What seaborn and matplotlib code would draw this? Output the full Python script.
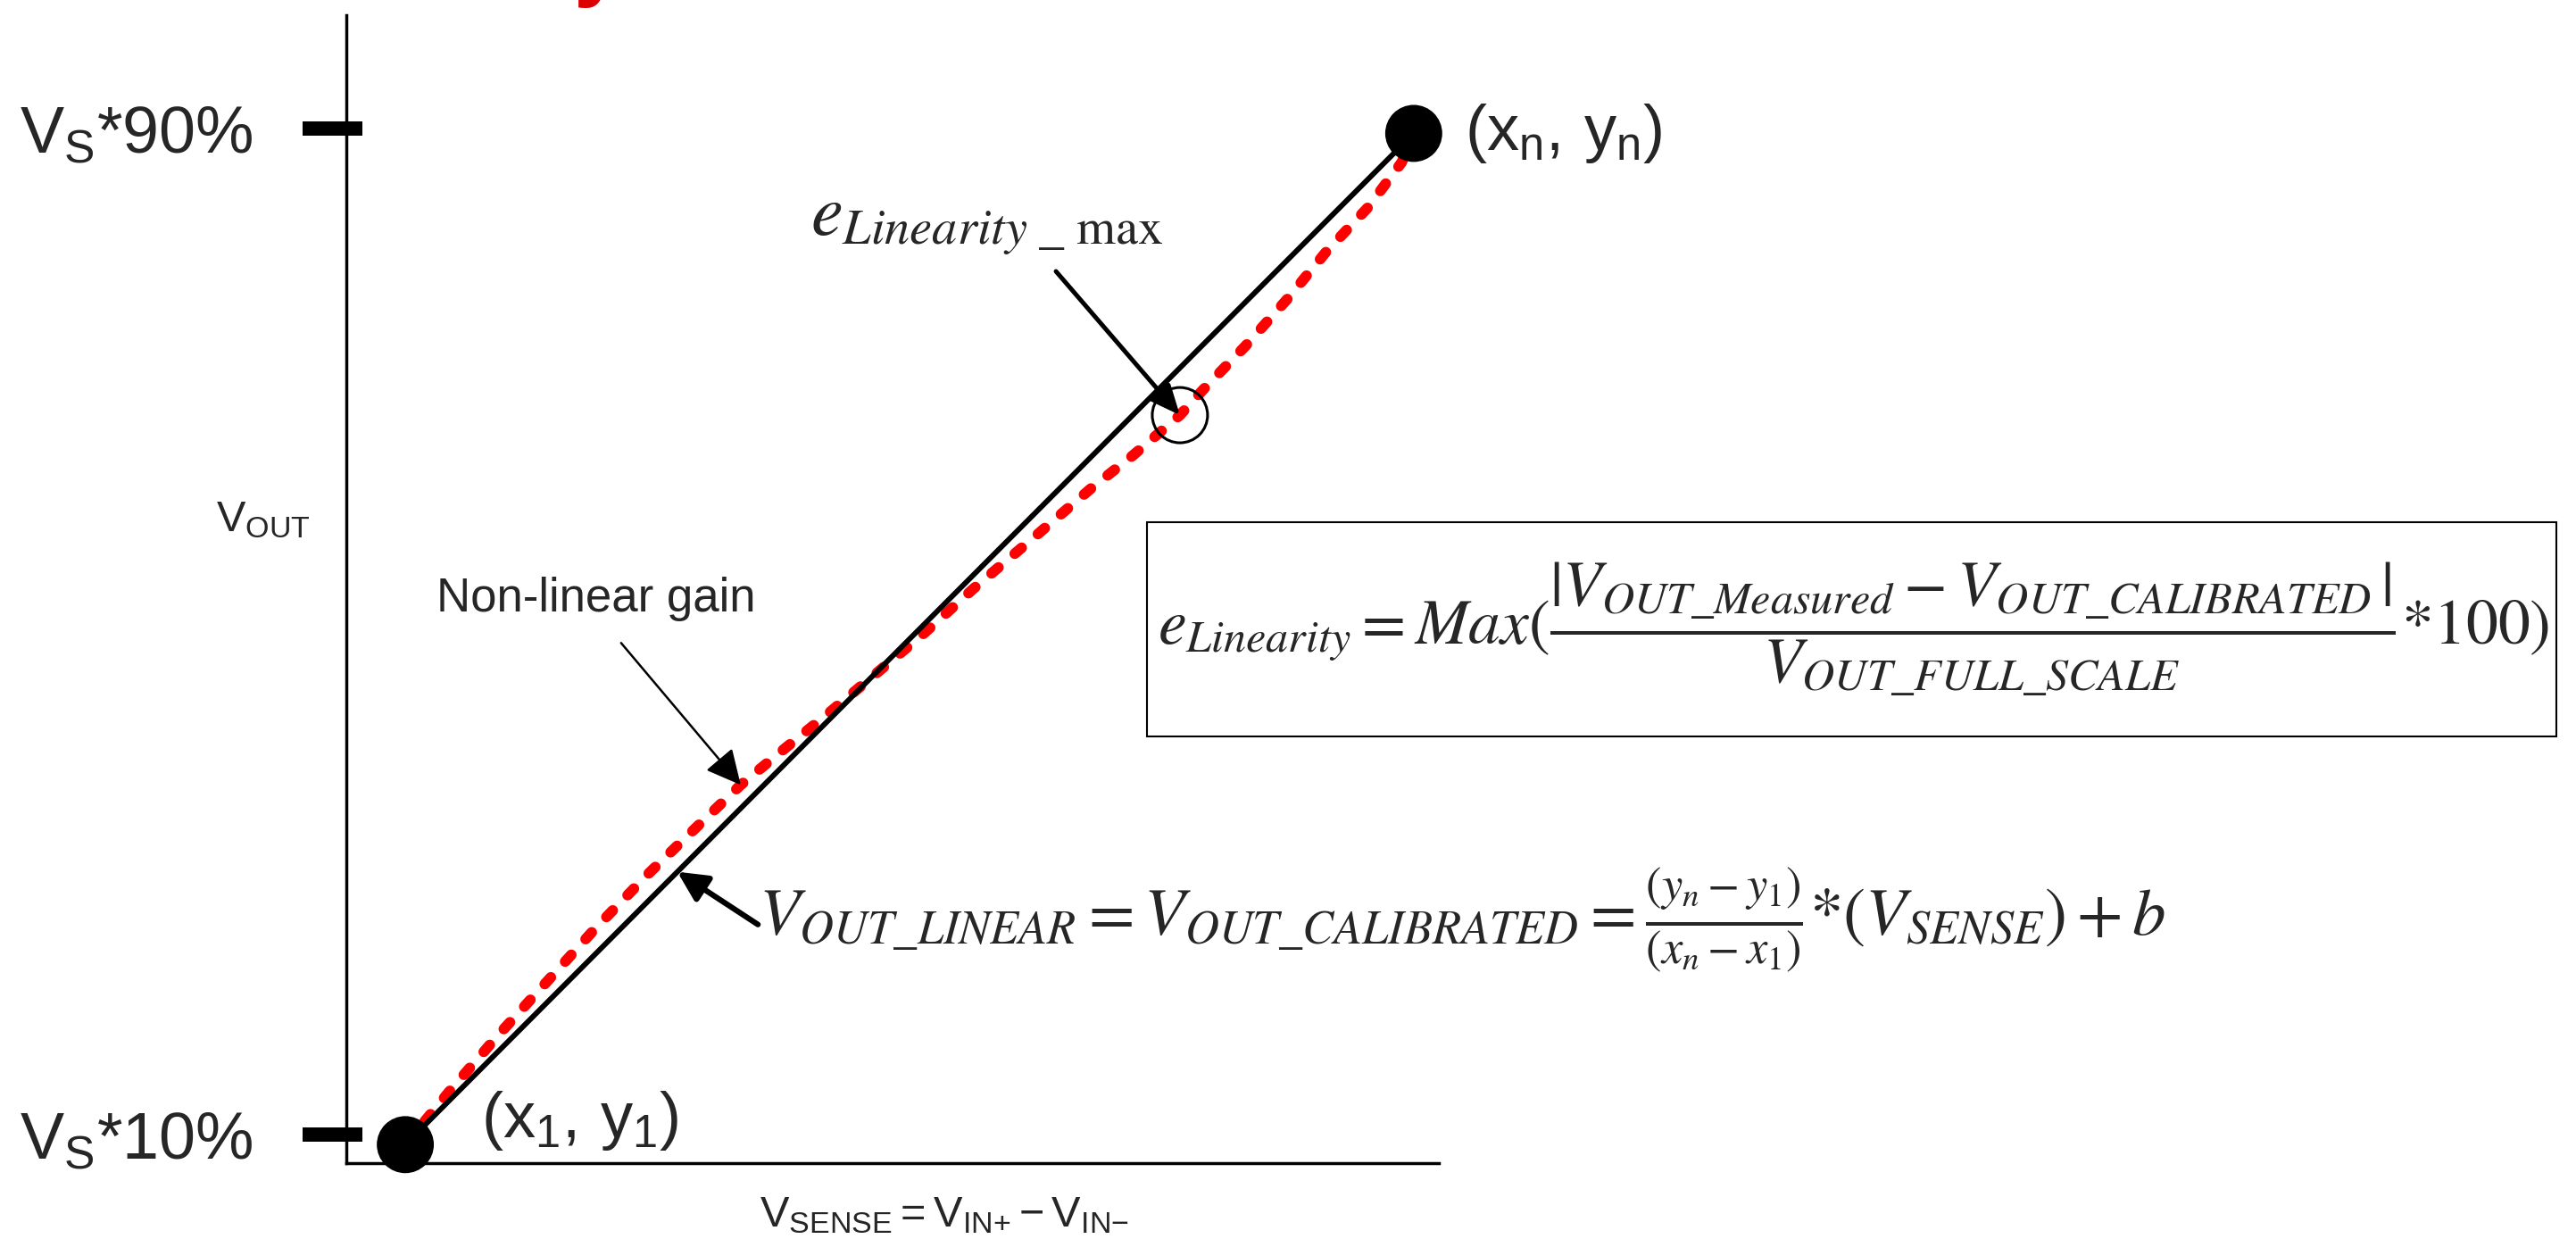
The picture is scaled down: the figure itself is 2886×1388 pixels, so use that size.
import numpy as np
import matplotlib
matplotlib.use("Agg")
import matplotlib.pyplot as plt
from matplotlib.patches import Rectangle
import seaborn as sns

W, H = 2886, 1388

# calibration end points: V_SENSE (% of range) and V_OUT (% of V_S)
X_ENDS = [5.4, 97.7]
Y_ENDS = [9.2, 89.6]

# measured (non-linear) output
SENSE = [5.4, 9.6, 13.9, 18.3, 22.8, 27.6, 32.6, 36.1, 40.0, 44.0, 48.0, 52.8,
         57.4, 63.1, 68.2, 72.0, 76.3, 78.4, 82.3, 86.1, 89.7, 93.5, 96.6, 97.7]
MEASURED = [9.2, 13.6, 17.9, 22.1, 26.4, 30.7, 34.9, 37.8, 40.6, 43.4, 46.3, 49.8,
            53.4, 57.6, 61.4, 64.0, 67.2, 69.2, 72.7, 76.4, 80.2, 83.7, 87.3, 89.6]

Y_TICKS = [10, 90]
Y_TICK_LABELS = [r"$\mathrm{V_S{*}10\%}$", r"$\mathrm{V_S{*}90\%}$"]
GAIN_NOTE_IDX = 7       # where the "Non-linear gain" arrow lands
LINEAR_NOTE_X = 30.3    # where the V_OUT_LINEAR arrow lands

F_MAX = r"$e_{Linearity\ \_\ \mathrm{max}}$"
F_ERR = (r"$e_{Linearity} = Max(\dfrac{|V_{OUT\_Measured} - V_{OUT\_CALIBRATED}\,|}"
         r"{V_{OUT\_FULL\_SCALE}}{*}100)$")
F_LIN = (r"$V_{OUT\_LINEAR} = V_{OUT\_CALIBRATED} = \frac{(y_n - y_1)}{(x_n - x_1)}"
         r"{*}(V_{SENSE}) + b$")


def fx(px):
    return px / W


def fy(py):
    return 1 - py / H


sns.set_style("white")
plt.rcParams["font.family"] = ["Liberation Sans", "DejaVu Sans"]
plt.rcParams["mathtext.fontset"] = "custom"
plt.rcParams["mathtext.rm"] = "Liberation Sans"
plt.rcParams["mathtext.it"] = "Liberation Sans:italic"
plt.rcParams["mathtext.bf"] = "Liberation Sans:bold"

fig = plt.figure(figsize=(W / 100, H / 100), dpi=100)
ax = fig.add_axes([fx(388), fy(1303), 1224 / W, 1286 / H])

sns.lineplot(x=SENSE, y=MEASURED, ax=ax, color="#ff0000", lw=8.6, sort=False)
red = ax.lines[-1]
red.set_linestyle((0, (0.85, 2.0)))
red.set_dash_capstyle("round")
red.set_clip_on(False)

sns.lineplot(x=X_ENDS, y=Y_ENDS, ax=ax, color="black", lw=4.3)
ax.lines[-1].set_clip_on(False)
sns.scatterplot(x=X_ENDS, y=Y_ENDS, ax=ax, color="black", s=2116,
                edgecolor="none", zorder=5, clip_on=False)

# point of maximum linearity error
lin = np.interp(SENSE, X_ENDS, Y_ENDS)
i_max = int(np.argmax(np.abs(lin - np.array(MEASURED))))
ax.scatter([SENSE[i_max]], [MEASURED[i_max]], s=1990, facecolor="none",
           edgecolor="black", lw=2.2, zorder=6, clip_on=False)

ax.set_xlim(0, 100)
ax.set_ylim(7.73, 99.0)
sns.despine(ax=ax)
for side in ["left", "bottom"]:
    ax.spines[side].set_linewidth(2.5)
    ax.spines[side].set_color("black")

ax.set_xticks([])
ax.set_yticks(Y_TICKS)
ax.set_yticklabels(Y_TICK_LABELS, fontsize=53)
ax.set_yticks(Y_TICKS, minor=True)
ax.yaxis.remove_overlapping_locs = False
ax.tick_params(axis="y", which="major", left=True, direction="out", length=35,
               width=11.5, color="black", pad=40)
ax.tick_params(axis="y", which="minor", left=True, direction="in", length=13,
               width=11.5, color="black")

ax.set_ylabel(r"$\mathrm{V_{OUT}}$", fontsize=35, rotation=0, ha="center", va="center")
ax.yaxis.set_label_coords(-0.076, 0.56)
ax.set_xlabel(r"$\mathrm{V_{SENSE} = V_{IN{+}} - V_{IN{-}}}$", fontsize=35, va="center")
ax.xaxis.set_label_coords(0.547, -0.046)

# end point labels
ax.annotate(r"$\mathrm{(x_1,\,y_1)}$", xy=(X_ENDS[0], Y_ENDS[0]), xytext=(61, 19.5),
            textcoords="offset points", ha="left", va="center", fontsize=52)
ax.annotate(r"$\mathrm{(x_n,\,y_n)}$", xy=(X_ENDS[1], Y_ENDS[1]), xytext=(41, 0),
            textcoords="offset points", ha="left", va="center", fontsize=52)

# arrows
ax.annotate("", xy=(SENSE[i_max], MEASURED[i_max]), xytext=(-100, 116),
            textcoords="offset points",
            arrowprops=dict(arrowstyle="-|>,head_length=0.5,head_width=0.22",
                            mutation_scale=40, lw=3.6, color="black",
                            shrinkA=0, shrinkB=0))
ax.annotate("", xy=(SENSE[GAIN_NOTE_IDX], MEASURED[GAIN_NOTE_IDX]), xytext=(-96.5, 114.5),
            textcoords="offset points",
            arrowprops=dict(arrowstyle="-|>,head_length=0.6,head_width=0.3",
                            mutation_scale=40, lw=1.8, color="black",
                            shrinkA=0, shrinkB=0))
ax.annotate("", xy=(LINEAR_NOTE_X, np.interp(LINEAR_NOTE_X, X_ENDS, Y_ENDS)),
            xytext=(65, -42.5), textcoords="offset points",
            arrowprops=dict(arrowstyle="-|>,head_length=0.5,head_width=0.25",
                            mutation_scale=40, lw=4.5, color="black",
                            shrinkA=0, shrinkB=0))

fig.text(fx(668), fy(671), "Non-linear gain", fontsize=38, ha="center", va="center")
fig.text(fx(908), fy(263), F_MAX, fontsize=58, ha="left", va="baseline",
         math_fontfamily="stix")
fig.text(fx(2077), fy(705), F_ERR, fontsize=51.5, ha="center", va="center",
         math_fontfamily="stix")
fig.patches.append(Rectangle((fx(1285), fy(825)), 1579 / W, 240 / H, fill=False,
                             lw=1.5, edgecolor="black", transform=fig.transFigure))
fig.text(fx(1638), fy(1031), F_LIN, fontsize=54, ha="center", va="center",
         math_fontfamily="stix")

# descender of the cropped red title above the chart
fig.text(fx(642), fy(-12), "y", color="#dd0000", fontsize=72, fontweight="bold",
         va="baseline", ha="left")

fig.savefig("out.png", dpi=100, facecolor="white")
